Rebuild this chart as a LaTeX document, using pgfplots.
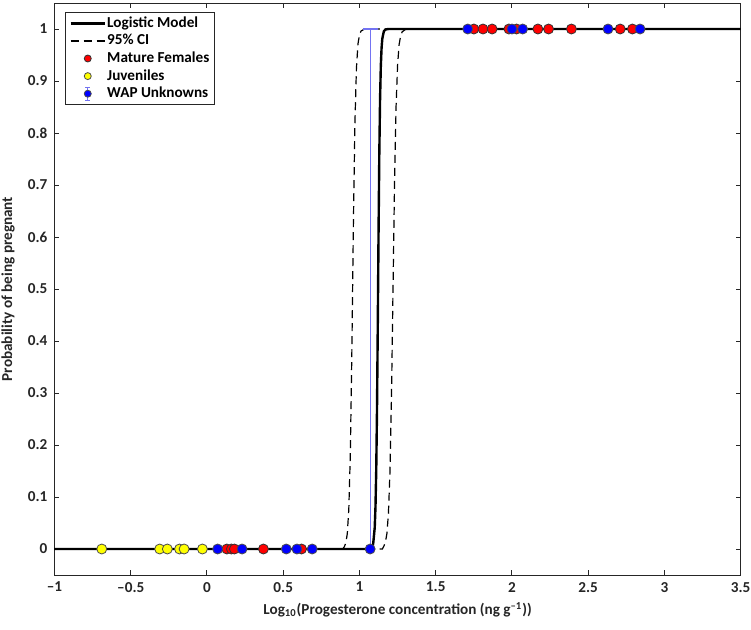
\documentclass[border=0pt]{standalone}
\usepackage{fontspec}
\setmainfont{Carlito}
\usepackage{pgfplots}
\pgfplotsset{compat=1.18}
\definecolor{mgray}{rgb}{0.15,0.15,0.15}
\definecolor{ebar}{rgb}{0.45,0.45,0.95}
\definecolor{mred}{rgb}{1,0,0}
\definecolor{myel}{rgb}{1,1,0}
\definecolor{mblue}{rgb}{0,0,1}
\newcommand{\ff}{\fontsize{7.6}{9}\selectfont\bfseries}
\begin{document}
\begin{tikzpicture}
\useasboundingbox (-27.25pt,-27pt) rectangle (348.25pt,287.5pt);
\begin{axis}[
 scale only axis, width=343.1pt, height=286pt,
 xmin=-1, xmax=3.5, ymin=-0.05, ymax=1.05,
 xtick={-1,-0.5,0,0.5,1,1.5,2,2.5,3,3.5},
 xticklabels={–1,–0.5,0,0.5,1,1.5,2,2.5,3,3.5},
 ytick={0,0.1,0.2,0.3,0.4,0.5,0.6,0.7,0.8,0.9,1},
 yticklabels={0,0.1,0.2,0.3,0.4,0.5,0.6,0.7,0.8,0.9,1},
 axis line style={mgray, line width=0.5pt},
 tick style={mgray, line width=0.5pt},
 major tick length=2.5pt,
 tick label style={font=\ff, text=mgray},
 xlabel={Log\textsubscript{10}(Progesterone concentration (ng g\textsuperscript{–1}))},
 ylabel={Probability of being pregnant},
 every axis x label/.style={at={(axis description cs:0.5,0)}, yshift=-17.5pt, anchor=center, font=\ff, text=mgray},
 every axis y label/.style={at={(axis description cs:0,0.5)}, xshift=-23.25pt, rotate=90, anchor=center, font=\ff, text=mgray},
 legend style={at={(axis description cs:0,1)}, anchor=north west, xshift=5.25pt, yshift=-4.5pt,
   draw=mgray, line width=0.5pt, font=\ff, inner xsep=2pt, inner ysep=1pt,
   nodes={text height=5.8pt, text depth=1.8pt, inner sep=0.6pt}},
 legend cell align=left,
]
% Logistic model
\addplot[black, line width=1.2pt] coordinates {
(-1,0) (1.07,0) (1.08,0.0025) (1.09,0.0103) (1.10,0.041) (1.105,0.081) (1.11,0.153)
(1.115,0.269) (1.12,0.428) (1.125,0.606) (1.13,0.758) (1.135,0.865) (1.14,0.929)
(1.145,0.964) (1.15,0.982) (1.16,0.9956) (1.17,0.999) (1.19,1) (3.5,1)};
\addlegendentry{Logistic Model}
% 95% CI lower bound (left)
\addplot[black, line width=0.6pt, dash pattern=on 4pt off 2.5pt] coordinates {
(-1,0) (0.89,0) (0.90,0.004) (0.91,0.011) (0.92,0.029) (0.93,0.076) (0.94,0.182)
(0.95,0.378) (0.96,0.622) (0.97,0.818) (0.98,0.924) (0.99,0.971) (1.00,0.989)
(1.01,0.996) (1.03,0.9994) (1.05,1) (3.5,1)};
\addlegendentry{95\% CI}
% 95% CI upper bound (right)
\addplot[black, line width=0.6pt, dash pattern=on 4pt off 2.5pt, forget plot] coordinates {
(-1,0) (1.15,0) (1.16,0.0055) (1.17,0.0127) (1.18,0.030) (1.19,0.069) (1.20,0.149)
(1.21,0.295) (1.22,0.5) (1.23,0.705) (1.24,0.851) (1.25,0.931) (1.26,0.970)
(1.27,0.987) (1.28,0.9945) (1.30,0.999) (1.32,1) (3.5,1)};
% Mature females
\addplot[only marks, mark=*, mark size=2.5pt, mark options={fill=mred, draw=black!80, line width=0.4pt},
 legend image code/.code={\draw[fill=mred, draw=black!80, line width=0.4pt] (0.3cm,0cm) circle (1.75pt);}]
 coordinates {
(0.13,0) (0.16,0) (0.18,0) (0.37,0) (0.62,0)
(1.75,1) (1.81,1) (1.87,1) (1.98,1) (2.03,1) (2.17,1) (2.24,1) (2.39,1) (2.71,1) (2.79,1)};
\addlegendentry{Mature Females}
% Juveniles
\addplot[only marks, mark=*, mark size=2.5pt, mark options={fill=myel, draw=black!70, line width=0.4pt},
 legend image code/.code={\draw[fill=myel, draw=black!70, line width=0.4pt] (0.3cm,0cm) circle (1.75pt);}]
 coordinates {
(-0.69,0) (-0.31,0) (-0.26,0) (-0.18,0) (-0.15,0) (-0.03,0)};
\addlegendentry{Juveniles}
% error bar of one WAP unknown
\addplot[draw=none, mark=none, forget plot,
 error bars/.cd, y dir=plus, y explicit,
 error bar style={color=ebar, line width=0.6pt},
 error mark options={rotate=90, mark size=3.75pt, color=ebar, line width=0.6pt}]
 coordinates {(1.07,0) +- (0,1)};
% WAP unknowns
\addplot[only marks, mark=*, mark size=2.5pt, mark options={fill=mblue, draw=black!70, line width=0.4pt},
 legend image code/.code={
   \draw[ebar, line width=0.5pt] (0.3cm,-3.2pt) -- (0.3cm,3.2pt);
   \draw[ebar, line width=0.5pt] (0.3cm-1.3pt,-3.2pt) -- (0.3cm+1.3pt,-3.2pt);
   \draw[ebar, line width=0.5pt] (0.3cm-1.3pt,3.2pt) -- (0.3cm+1.3pt,3.2pt);
   \draw[fill=mblue, draw=black!70, line width=0.4pt] (0.3cm,0cm) circle (1.75pt);}]
 coordinates {
(0.07,0) (0.23,0) (0.52,0) (0.59,0) (0.69,0) (1.07,0)
(1.71,1) (2.00,1) (2.07,1) (2.63,1) (2.84,1)};
\addlegendentry{WAP Unknowns}
\end{axis}
\end{tikzpicture}
\end{document}
